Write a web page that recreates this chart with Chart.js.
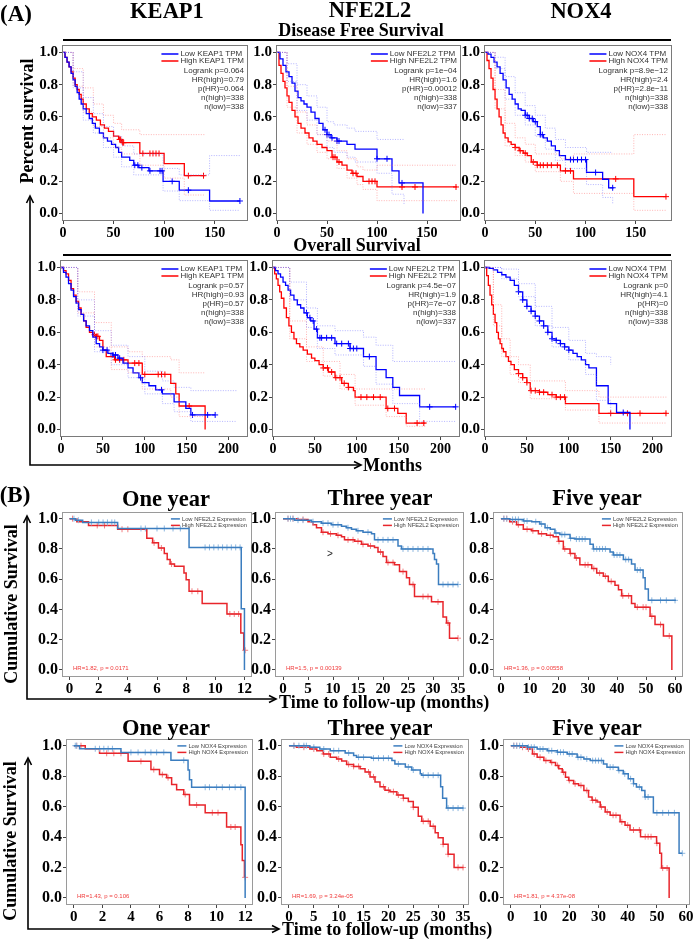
<!DOCTYPE html>
<html><head><meta charset="utf-8">
<script src="https://cdn.jsdelivr.net/npm/chart.js@4/dist/chart.umd.min.js"></script>
<style>
html,body{margin:0;padding:0;background:#fff;}
body{width:698px;height:942px;position:relative;overflow:hidden;}
.t{position:absolute;font-family:'Liberation Serif','Times New Roman',serif;font-weight:bold;color:#000;white-space:nowrap;line-height:1;transform:translate(-50%,-50%);}
.l{position:absolute;font-family:'Liberation Serif','Times New Roman',serif;font-weight:bold;color:#000;white-space:nowrap;line-height:1;transform:translate(0,-50%);}
.r{position:absolute;font-family:'Liberation Serif','Times New Roman',serif;font-weight:bold;color:#000;white-space:nowrap;line-height:1;transform:translate(-50%,-50%) rotate(-90deg);}
canvas{position:absolute;}
svg{position:absolute;left:0;top:0;}
</style></head><body>
<script>
// ---------- tick labels ----------
const yTicks=[0,0.2,0.4,0.6,0.8,1.0];
const dfsXTicks=[0,50,100,150];
const osXTicks=[0,50,100,150,200];
const yr1Ticks=[0,2,4,6,8,10,12];
const yr3Ticks=[0,5,10,15,20,25,30,35];
const yr5Ticks=[0,10,20,30,40,50,60];

// ---------- (A) Disease free survival : KEAP1 ----------
const dfsKEAP1_low_t=[0,2,4,6,8,10,12,14,16,18,20,23,26,29,32,36,40,44,48,52,55,58,66,70,75,85,99,115,145,175];
const dfsKEAP1_low_s=[1,.97,.94,.91,.87,.83,.79,.75,.71,.68,.65,.62,.59,.56,.53,.50,.47,.45,.43,.41,.38,.35,.33,.30,.285,.265,.20,.145,.078,.078];
const dfsKEAP1_low_cens=[71,74,78,86,96,98,108,124,175];
const dfsKEAP1_low_ciT=[0,10,20,30,40,50,58,70,99,115,145,175];
const dfsKEAP1_low_hi=[1,.88,.72,.62,.54,.48,.42,.37,.28,.24,.36,.36];
const dfsKEAP1_low_lo=[1,.78,.58,.50,.41,.35,.29,.24,.14,.08,.02,.02];
const dfsKEAP1_high_t=[0,2,4,6,8,10,12,14,16,18,20,23,26,29,33,37,41,45,50,55,58,76,100,120,140];
const dfsKEAP1_high_s=[1,.97,.94,.91,.88,.84,.80,.77,.74,.71,.68,.65,.62,.60,.58,.55,.53,.51,.48,.46,.44,.373,.31,.235,.235];
const dfsKEAP1_high_cens=[56,57,59,60,79,86,89,92,95,124,139];
const dfsKEAP1_high_ciT=[0,10,20,30,40,50,58,76,100,120,140];
const dfsKEAP1_high_hi=[1,.90,.78,.68,.61,.56,.52,.49,.49,.49,.49];
const dfsKEAP1_high_lo=[1,.79,.63,.54,.47,.41,.37,.30,.22,.115,.115];

// ---------- (A) DFS : NFE2L2 ----------
const dfsNFE2L2_low_t=[0,3,6,9,12,15,18,21,24,27,30,34,38,42,46,50,54,60,70,78,100,115,122,146];
const dfsNFE2L2_low_s=[1,.96,.92,.88,.85,.81,.76,.72,.70,.68,.66,.63,.59,.56,.52,.49,.47,.45,.43,.40,.34,.265,.19,0];
const dfsNFE2L2_low_cens=[48,50,52,55,60,62,100,110,125];
const dfsNFE2L2_low_ciT=[0,10,20,30,40,50,57,70,78,100,115,127];
const dfsNFE2L2_low_hi=[1,.93,.80,.73,.66,.57,.55,.53,.51,.46,.46,.46];
const dfsNFE2L2_low_lo=[1,.82,.64,.58,.49,.41,.38,.35,.32,.25,.12,.06];
const dfsNFE2L2_high_t=[0,2,4,6,8,10,12,15,18,21,24,28,32,36,40,45,50,55,60,65,70,75,80,86,100,180];
const dfsNFE2L2_high_s=[1,.92,.87,.82,.78,.73,.69,.64,.60,.56,.53,.50,.47,.45,.43,.41,.39,.35,.32,.30,.27,.25,.23,.20,.165,.165];
const dfsNFE2L2_high_cens=[56,58,62,76,79,92,95,98,125,138,179];
const dfsNFE2L2_high_ciT=[0,10,20,30,40,50,60,70,80,86,100,180];
const dfsNFE2L2_high_hi=[1,.79,.63,.55,.49,.45,.39,.34,.29,.27,.30,.30];
const dfsNFE2L2_high_lo=[1,.66,.50,.43,.38,.34,.28,.22,.18,.15,.08,.08];

// ---------- (A) DFS : NOX4 ----------
const dfsNOX4_low_t=[0,3,6,9,12,15,18,21,24,27,30,33,36,40,44,48,52,55,58,62,66,70,74,80,101,117,123,128];
const dfsNOX4_low_s=[1,.99,.97,.94,.91,.87,.83,.78,.74,.71,.68,.65,.64,.61,.59,.57,.54,.49,.47,.45,.42,.39,.36,.335,.255,.213,.16,.16];
const dfsNOX4_low_cens=[40,42,44,47,50,55,57,85,88,92,96,100,110,127];
const dfsNOX4_low_ciT=[0,10,20,30,40,50,60,70,80,101,117,127];
const dfsNOX4_low_hi=[1,.97,.85,.75,.67,.61,.53,.46,.41,.38,.38,.38];
const dfsNOX4_low_lo=[1,.90,.71,.61,.55,.48,.40,.33,.28,.18,.10,.06];
const dfsNOX4_high_t=[0,2,4,6,8,10,12,14,16,18,20,23,26,30,34,38,42,46,52,75,88,148,180];
const dfsNOX4_high_s=[1,.95,.90,.84,.77,.71,.65,.60,.55,.50,.47,.445,.43,.41,.39,.375,.36,.32,.30,.265,.215,.105,.105];
const dfsNOX4_high_cens=[30,35,40,48,52,55,58,62,66,72,80,85,130,180];
const dfsNOX4_high_ciT=[0,10,20,30,40,50,75,88,148,180];
const dfsNOX4_high_hi=[1,.77,.56,.47,.43,.37,.34,.37,.49,.49];
const dfsNOX4_high_lo=[1,.65,.42,.36,.32,.26,.20,.125,.02,.02];

// ---------- (A) Overall survival : KEAP1 ----------
const osKEAP1_low_t=[0,3,6,9,12,15,18,21,24,27,30,34,38,42,46,50,56,62,68,74,80,86,93,97,105,113,121,135,149,155,184];
const osKEAP1_low_s=[1,.97,.94,.90,.86,.82,.78,.74,.71,.67,.64,.61,.57,.53,.51,.49,.47,.46,.44,.41,.38,.35,.32,.29,.27,.245,.22,.17,.13,.09,.09];
const osKEAP1_low_cens=[50,55,62,65,70,95,120,157,175,184];
const osKEAP1_low_ciT=[0,20,40,60,80,100,121,135,155,210];
const osKEAP1_low_hi=[1,.80,.61,.52,.45,.36,.30,.26,.24,.24];
const osKEAP1_low_lo=[1,.70,.48,.40,.32,.22,.16,.11,.05,.05];
const osKEAP1_high_t=[0,3,6,9,12,15,18,21,24,27,30,34,38,42,46,50,54,64,80,97,131,137,141,172];
const osKEAP1_high_s=[1,.98,.96,.92,.87,.83,.79,.75,.71,.67,.63,.60,.585,.575,.55,.49,.45,.43,.41,.34,.285,.22,.145,0];
const osKEAP1_high_cens=[40,42,44,65,70,75,88,93,100,116,120,124,153];
const osKEAP1_high_ciT=[0,20,40,60,80,97,131,141,172];
const osKEAP1_high_hi=[1,.85,.66,.51,.48,.45,.43,.35,.35];
const osKEAP1_high_lo=[1,.72,.51,.37,.35,.25,.20,.08,.08];

// ---------- (A) OS : NFE2L2 ----------
const osNFE2L2_low_t=[0,3,6,9,12,15,18,21,25,29,33,37,41,45,49,53,74,92,108,123,135,143,151,175,218];
const osNFE2L2_low_s=[1,.98,.96,.94,.91,.89,.86,.83,.80,.77,.75,.72,.69,.67,.62,.566,.53,.50,.45,.37,.32,.26,.21,.14,.14];
const osNFE2L2_low_cens=[40,44,48,52,56,58,64,70,76,82,90,92,96,100,115,187,218];
const osNFE2L2_low_ciT=[0,20,40,53,74,108,123,143,175,218];
const osNFE2L2_low_hi=[1,.91,.75,.64,.61,.57,.52,.42,.42,.42];
const osNFE2L2_low_lo=[1,.80,.63,.50,.46,.39,.28,.16,.05,.05];
const osNFE2L2_high_t=[0,2,4,6,8,10,13,16,19,22,25,28,32,36,41,46,50,55,60,66,74,82,90,96,98,135,149,159,182];
const osNFE2L2_high_s=[1,.96,.93,.89,.85,.81,.75,.69,.64,.60,.56,.53,.51,.49,.465,.44,.425,.40,.38,.355,.32,.285,.26,.24,.20,.13,.10,.04,.04];
const osNFE2L2_high_cens=[60,65,70,75,80,85,90,105,112,120,128,137,145,172,180];
const osNFE2L2_high_ciT=[0,20,40,60,80,98,135,159,182];
const osNFE2L2_high_hi=[1,.67,.51,.42,.34,.25,.25,.25,.25];
const osNFE2L2_high_lo=[1,.56,.42,.33,.25,.15,.08,.02,.02];

// ---------- (A) OS : NOX4 ----------
const osNOX4_low_t=[0,5,10,15,20,25,30,35,40,45,50,55,60,65,70,75,80,85,90,95,100,105,110,115,120,124,133,147,157,173];
const osNOX4_low_s=[1,.995,.985,.97,.955,.94,.92,.89,.85,.80,.76,.73,.70,.67,.64,.60,.56,.55,.53,.51,.49,.47,.45,.43,.40,.38,.27,.16,.105,0];
const osNOX4_low_cens=[40,45,50,55,60,65,70,75,80,85,90,95,100,165];
const osNOX4_low_ciT=[0,20,40,60,80,100,120,133,150];
const osNOX4_low_hi=[1,.99,.90,.76,.63,.55,.47,.45,.40];
const osNOX4_low_lo=[1,.93,.82,.64,.51,.43,.34,.18,.08];
const osNOX4_high_t=[0,2,4,6,8,10,12,14,16,18,20,22,25,28,31,35,40,45,50,54,65,75,85,96,136,217];
const osNOX4_high_s=[1,.95,.89,.83,.77,.71,.66,.60,.56,.53,.50,.48,.45,.42,.40,.37,.345,.32,.29,.24,.23,.215,.20,.16,.10,.10];
const osNOX4_high_cens=[40,45,50,55,60,65,70,80,85,90,95,150,170,185,216];
const osNOX4_high_ciT=[0,10,20,30,40,54,96,136,217];
const osNOX4_high_hi=[1,.77,.56,.45,.40,.30,.24,.20,.20];
const osNOX4_high_lo=[1,.64,.45,.34,.29,.19,.12,.04,.04];

// ---------- (B) NFE2L2 : one / three / five year ----------
const y1NFE2L2_low_t=[0,0.4,0.9,3.3,8.2,11.78,12.0];
const y1NFE2L2_low_s=[1,.99,.975,.935,.81,.405,0];
const y1NFE2L2_low_cens=[0.3,0.6,1.5,2.0,2.3,2.6,2.9,3.1,4.9,5.2,6.0,6.5,7.1,7.6,9.3,9.6,9.9,10.2,10.5,10.8,11.1,11.4,11.7];
const y1NFE2L2_high_t=[0,0.5,1.3,3.3,5.3,5.7,6.1,6.5,6.7,6.9,7.2,7.85,8.0,8.2,9.1,10.8,11.75,11.95];
const y1NFE2L2_high_s=[1,.98,.955,.93,.87,.84,.806,.77,.73,.70,.685,.64,.596,.52,.44,.37,.245,.13];
const y1NFE2L2_high_cens=[0.2,1.9,2.4,3.6,4.0,5.8,6.3,7.0,8.4,8.8,11.0,11.3,11.6,12.05];
const y3NFE2L2_low_t=[0,2.3,5.7,7.7,9.7,11.7,12.7,13.7,14.7,16,17.7,18.3,23,23.7,30,30.3,30.7,31.1,35];
const y3NFE2L2_low_s=[1,.99,.98,.97,.96,.95,.94,.93,.92,.91,.90,.86,.82,.80,.77,.73,.70,.565,.565];
const y3NFE2L2_low_cens=[1,1.5,2,3,4,6,8,9,10,11,13,15,17,19,20,21,22,24,25,26,27,28,29,32,33,34,35];
const y3NFE2L2_high_t=[0,3,5,6,6.7,7.7,9,10.7,11.7,12.3,14.3,15.7,17,18.3,19,20,20.7,22.3,23.3,24.7,25.3,26.3,29.7,32,32.7,33.3,35];
const y3NFE2L2_high_s=[1,.995,.98,.96,.94,.91,.90,.89,.88,.86,.85,.83,.82,.81,.78,.75,.71,.695,.65,.61,.565,.485,.45,.35,.31,.21,.21];
const y3NFE2L2_high_cens=[1,2,4,8,9.5,11,13,14,15,16,17.5,19.5,21,22,24,26,28,29,31,33,35];
const y5NFE2L2_low_t=[0,3,7.7,10.6,13.4,15.2,17,18.6,20.3,23.8,25.5,30.7,31.8,37.6,38.7,42.2,45,46.2,49,49.7,50.8,60.3];
const y5NFE2L2_low_s=[1,.995,.985,.98,.965,.94,.93,.905,.895,.87,.865,.83,.80,.78,.76,.73,.70,.66,.61,.535,.46,.46];
const y5NFE2L2_low_cens=[1,2,4,5,6,8,9,12,14,16,19,21,22,24,26,27,28,29,32,33,34,35,36,39,40,41,43,44,47,48,52,55,57,60];
const y5NFE2L2_high_t=[0,3,5.4,7.7,10.6,12.9,15.7,18,19.8,21.5,23.8,25.5,27.2,31.3,33,35.3,37,39.3,40.5,41.6,45,46.2,51.4,53.1,56,58.9];
const y5NFE2L2_high_s=[1,.98,.96,.93,.92,.90,.89,.88,.85,.80,.77,.74,.695,.67,.64,.62,.585,.56,.53,.49,.44,.415,.355,.30,.225,0];
const y5NFE2L2_high_cens=[1,2,4,6,9,11,14,17,20,22,24,26,29,30,32,34,36,38,42,44,47,49,50,52,55,58];

// ---------- (B) NOX4 : one / three / five year ----------
const y1NOX4_low_t=[0,0.4,3.3,6.8,8.0,8.1,8.25,12.0];
const y1NOX4_low_s=[1,.98,.956,.904,.84,.777,.727,0];
const y1NOX4_low_cens=[0.1,0.2,1.5,1.8,2.1,2.4,2.7,4.0,4.5,5.0,5.4,5.8,6.3,7.7,9.2,9.5,10.0,10.4,10.9,11.3,11.7];
const y1NOX4_high_t=[0,0.8,1.8,3.8,5.4,6.0,6.5,6.85,7.2,7.7,8.1,9.2,10.7,11.7,11.8,11.95];
const y1NOX4_high_s=[1,.98,.95,.897,.843,.81,.79,.745,.71,.68,.61,.56,.466,.35,.245,.135];
const y1NOX4_high_cens=[0.2,0.5,2.3,2.8,3.3,4.7,5.6,6.2,6.6,7.8,8.6,9.7,10.1,11.0,11.3,12.0];
const y3NOX4_low_t=[0,4.2,6.2,8.3,11.3,13,13.6,16.6,20.7,21.3,23.4,24.7,26.4,26.7,30.5,30.9,31.7,35.1];
const y3NOX4_low_s=[1,.99,.978,.967,.952,.935,.924,.918,.903,.88,.86,.84,.816,.806,.73,.655,.59,.59];
const y3NOX4_low_cens=[1,2,3,3.5,5,7,9,10,12,14,15,17,18,19,20,22,24,25,27,28,29,30,32,33,34,35];
const y3NOX4_high_t=[0,1.5,4.2,5.6,6.9,8.3,9.6,10.6,11.6,13,14.3,15.3,16.3,17.3,18.3,19.3,20.3,21.7,23,24,25,26,26.7,28.4,29.4,30,31,32,33.2,35.1];
const y3NOX4_high_s=[1,.99,.978,.967,.946,.924,.913,.90,.877,.864,.849,.827,.795,.762,.73,.708,.698,.676,.654,.633,.596,.536,.503,.47,.428,.395,.352,.287,.20,.20];
const y3NOX4_high_cens=[1,3,5,7,8,10,12,13,14,16,17,19,20,21,22,23,25,27,28,29,31,32,34,35];
const y5NOX4_low_t=[0,5.7,9,12.5,15.9,19.3,22.7,25,27.2,31.7,32.9,36.8,38.5,40.2,42,43,44.8,45.9,48.8,57.6,58.7];
const y5NOX4_low_s=[1,.99,.978,.967,.957,.946,.924,.913,.902,.88,.859,.837,.815,.783,.75,.728,.706,.663,.559,.293,.293];
const y5NOX4_low_cens=[1,2,3,4,6,7,8,10,11,13,14,16,17,18,20,21,23,24,26,28,29,30,31,34,35,37,39,41,42,44,46,47,50,52,54,56,58.7];
const y5NOX4_high_t=[0,3.4,5.7,7.4,9,11.3,13.6,15.3,16.4,17.6,18.7,19.8,21.5,23.2,25,26.6,27.8,29.5,30.6,32.3,34,37.4,39.1,40.8,44.4,49.9,51,51.6,54.2];
const y5NOX4_high_s=[1,.99,.978,.946,.924,.902,.89,.87,.848,.826,.793,.772,.75,.739,.706,.663,.641,.63,.598,.565,.543,.50,.478,.446,.402,.359,.293,.196,0];
const y5NOX4_high_cens=[1,2,4,6,8,10,12,14,16,18,20,22,24,26,28,29,31,33,35,36,38,40,42,44,46,47,48,50,52,53.5];

// ---------- helpers ----------
function stepAt(T,S,x){let v=S[0];for(let i=0;i<T.length;i++){if(T[i]<=x)v=S[i];else break;}return v;}
function pts(T,S){return T.map((x,i)=>({x:x,y:S[i]}));}

const kmPlugin={id:'km',afterDatasetsDraw(chart,args,o){
  const ctx=chart.ctx,a=chart.chartArea;ctx.save();
  ctx.strokeStyle=o.boxColor;ctx.lineWidth=1;
  ctx.strokeRect(Math.round(a.left)-0.5,Math.round(a.top)-0.5,Math.round(a.right-a.left)+1,Math.round(a.bottom-a.top)+1);
  ctx.font=o.legFont;ctx.textBaseline='middle';
  const mw=Math.max(...o.labels.map(s=>ctx.measureText(s).width));
  const tx=a.right-o.legRight-mw;
  o.labels.forEach((s,i)=>{const y=a.top+o.legRows[i];
    ctx.strokeStyle=o.legColors[i];ctx.lineWidth=o.legLW;ctx.beginPath();
    ctx.moveTo(tx-o.legGap-o.legLine,y);ctx.lineTo(tx-o.legGap,y);ctx.stroke();
    ctx.fillStyle=o.textColor;ctx.textAlign='left';ctx.fillText(s,tx,y);});
  if(o.stats){ctx.textAlign='right';ctx.fillStyle=o.textColor;
    o.stats.forEach((s,i)=>ctx.fillText(s,a.right-o.legRight,a.top+o.statRows[i]));}
  if(o.hr){ctx.font=o.hrFont;ctx.fillStyle=o.hrColor;ctx.textAlign='left';
    ctx.fillText(o.hr,a.left+o.hrDx,chart.scales.y.getPixelForValue(0)-1.5);}
  ctx.restore();}};

const SERIF="'Liberation Serif','Times New Roman',serif";
const styleA={lw:1.3,cr:3,boxColor:'#7a7a7a',fx:14,fy:15,pad:1,yW:48,xH:24,
  low:'#0000ff',high:'#ff0000',ciLow:'rgba(110,110,255,0.5)',ciHigh:'rgba(255,110,110,0.5)',cLow:'#0000ff',cHigh:'#ff0000'};
const styleB={lw:1.5,cr:3,boxColor:'#9a9a9a',fx:15,fy:16,pad:0,yW:48,xH:26,
  low:'#3b7dbf',high:'#e8252b',cLow:'#8db7df',cHigh:'#f28083'};

function makeKM(box,xr,xt,low,high,st,extra){
  const ds=[];
  [[low,st.ciLow],[high,st.ciHigh]].forEach(([c,ci])=>{
    if(c.ciT){[c.hi,c.lo].forEach(v=>ds.push({data:pts(c.ciT,v),borderColor:ci,borderWidth:1,borderDash:[1,1.5],stepped:true,pointRadius:0,fill:false}));}
  });
  [[low,st.low,st.cLow],[high,st.high,st.cHigh]].forEach(([c,col,cc])=>{
    ds.push({data:pts(c.t,c.s),borderColor:col,borderWidth:st.lw,stepped:true,pointRadius:0,fill:false});
    ds.push({data:c.cens.map(x=>({x:x,y:stepAt(c.t,c.s,x)})),showLine:false,pointStyle:'cross',pointRadius:st.cr,
      pointBorderColor:cc,pointBorderWidth:1,borderColor:cc,backgroundColor:cc});
  });
  const W=(box.r-box.l)+st.yW+16,H=(box.b-box.t)+10+st.xH;
  const cv=document.createElement('canvas');cv.width=W;cv.height=H;document.body.appendChild(cv);
  const tickFont=s=>({family:SERIF,weight:'bold',size:s});
  const ch=new Chart(cv,{type:'line',data:{datasets:ds},plugins:[kmPlugin],
    options:{responsive:false,maintainAspectRatio:false,animation:false,devicePixelRatio:1,
      layout:{padding:{top:10,right:16,left:0,bottom:0}},
      plugins:{legend:{display:false},tooltip:{enabled:false},km:Object.assign({boxColor:st.boxColor},extra)},
      scales:{
        x:{type:'linear',min:xr[0],max:xr[1],afterBuildTicks:s=>{s.ticks=xt.map(v=>({value:v}));},
          afterFit:s=>{s.height=st.xH;},
          ticks:{font:tickFont(st.fx),color:'#000',padding:st.pad,maxRotation:0,autoSkip:false,callback:v=>String(v)},
          grid:{drawOnChartArea:false,drawTicks:true,tickLength:4,color:'#444'},border:{display:false}},
        y:{type:'linear',min:-0.04,max:1.04,afterBuildTicks:s=>{s.ticks=yTicks.map(v=>({value:v}));},
          afterFit:s=>{s.width=st.yW;},
          ticks:{font:tickFont(st.fy),color:'#000',padding:1,autoSkip:false,callback:v=>Number(v).toFixed(1)},
          grid:{drawOnChartArea:false,drawTicks:true,tickLength:4,color:'#444'},border:{display:false}}
      }}});
  let a=ch.chartArea;
  const dw=(box.r-box.l)-(a.right-a.left),dh=(box.b-box.t)-(a.bottom-a.top);
  if(Math.abs(dw)>0.5||Math.abs(dh)>0.5){ch.resize(Math.round(W+dw),Math.round(H+dh));a=ch.chartArea;}
  cv.style.left=(box.l-a.left)+'px';cv.style.top=(box.t-a.top)+'px';
  return ch;
}
function legA(gene,stats){return {labels:['Low '+gene+' TPM','High '+gene+' TPM'],legColors:['#0000ff','#ff0000'],
  legFont:"8px 'Liberation Sans',Arial,sans-serif",legRows:[8,15],statRows:[25,34,43,52,61],legRight:3,legLine:17,legGap:2,legLW:1.5,
  textColor:'#333',stats:stats};}
function legB(gene,hr){return {labels:['Low '+gene+' Expression','High '+gene+' Expression'],legColors:['#3b7dbf','#e8252b'],
  legFont:"5.8px 'Liberation Sans',Arial,sans-serif",legRows:[6.3,12.8],legRight:4,legLine:9,legGap:2,legLW:1.5,
  textColor:'#444',hr:hr,hrFont:"6px 'Liberation Sans',Arial,sans-serif",hrColor:'#f03a3a',hrDx:10};}
function cur(t,s,c,ciT,hi,lo){return {t:t,s:s,cens:c,ciT:ciT,hi:hi,lo:lo};}

// (A) Disease free survival row
makeKM({l:63,t:46,r:247,b:220},[0,182],dfsXTicks,
  cur(dfsKEAP1_low_t,dfsKEAP1_low_s,dfsKEAP1_low_cens,dfsKEAP1_low_ciT,dfsKEAP1_low_hi,dfsKEAP1_low_lo),
  cur(dfsKEAP1_high_t,dfsKEAP1_high_s,dfsKEAP1_high_cens,dfsKEAP1_high_ciT,dfsKEAP1_high_hi,dfsKEAP1_high_lo),styleA,
  legA('KEAP1',['Logrank p=0.064','HR(high)=0.79','p(HR)=0.064','n(high)=338','n(low)=338']));
makeKM({l:277,t:46,r:460,b:220},[0,183],dfsXTicks,
  cur(dfsNFE2L2_low_t,dfsNFE2L2_low_s,dfsNFE2L2_low_cens,dfsNFE2L2_low_ciT,dfsNFE2L2_low_hi,dfsNFE2L2_low_lo),
  cur(dfsNFE2L2_high_t,dfsNFE2L2_high_s,dfsNFE2L2_high_cens,dfsNFE2L2_high_ciT,dfsNFE2L2_high_hi,dfsNFE2L2_high_lo),styleA,
  legA('NFE2L2',['Logrank p=1e\u221204','HR(high)=1.6','p(HR)=0.00012','n(high)=338','n(low)=337']));
makeKM({l:485,t:46,r:671,b:220},[0,185],dfsXTicks,
  cur(dfsNOX4_low_t,dfsNOX4_low_s,dfsNOX4_low_cens,dfsNOX4_low_ciT,dfsNOX4_low_hi,dfsNOX4_low_lo),
  cur(dfsNOX4_high_t,dfsNOX4_high_s,dfsNOX4_high_cens,dfsNOX4_high_ciT,dfsNOX4_high_hi,dfsNOX4_high_lo),styleA,
  legA('NOX4',['Logrank p=8.9e\u221212','HR(high)=2.4','p(HR)=2.8e\u221211','n(high)=338','n(low)=338']));
// (A) Overall survival row
makeKM({l:61,t:261,r:247,b:436},[0,222],osXTicks,
  cur(osKEAP1_low_t,osKEAP1_low_s,osKEAP1_low_cens,osKEAP1_low_ciT,osKEAP1_low_hi,osKEAP1_low_lo),
  cur(osKEAP1_high_t,osKEAP1_high_s,osKEAP1_high_cens,osKEAP1_high_ciT,osKEAP1_high_hi,osKEAP1_high_lo),styleA,
  legA('KEAP1',['Logrank p=0.57','HR(high)=0.93','p(HR)=0.57','n(high)=338','n(low)=338']));
makeKM({l:273,t:261,r:459,b:436},[0,222],osXTicks,
  cur(osNFE2L2_low_t,osNFE2L2_low_s,osNFE2L2_low_cens,osNFE2L2_low_ciT,osNFE2L2_low_hi,osNFE2L2_low_lo),
  cur(osNFE2L2_high_t,osNFE2L2_high_s,osNFE2L2_high_cens,osNFE2L2_high_ciT,osNFE2L2_high_hi,osNFE2L2_high_lo),styleA,
  legA('NFE2L2',['Logrank p=4.5e\u221207','HR(high)=1.9','p(HR)=7e\u221207','n(high)=338','n(low)=337']));
makeKM({l:485,t:261,r:671,b:436},[0,222],osXTicks,
  cur(osNOX4_low_t,osNOX4_low_s,osNOX4_low_cens,osNOX4_low_ciT,osNOX4_low_hi,osNOX4_low_lo),
  cur(osNOX4_high_t,osNOX4_high_s,osNOX4_high_cens,osNOX4_high_ciT,osNOX4_high_hi,osNOX4_high_lo),styleA,
  legA('NOX4',['Logrank p=0','HR(high)=4.1','p(HR)=0','n(high)=338','n(low)=338']));
// (B) NFE2L2 row
makeKM({l:63,t:513,r:251,b:676},[-0.45,12.45],yr1Ticks,
  cur(y1NFE2L2_low_t,y1NFE2L2_low_s,y1NFE2L2_low_cens),cur(y1NFE2L2_high_t,y1NFE2L2_high_s,y1NFE2L2_high_cens),styleB,
  legB('NFE2L2','HR=1.82, p = 0.0171'));
makeKM({l:276,t:513,r:463,b:676},[-1.4,36],yr3Ticks,
  cur(y3NFE2L2_low_t,y3NFE2L2_low_s,y3NFE2L2_low_cens),cur(y3NFE2L2_high_t,y3NFE2L2_high_s,y3NFE2L2_high_cens),styleB,
  legB('NFE2L2','HR=1.5, p = 0.00139'));
makeKM({l:494,t:513,r:682,b:676},[-2.4,62.4],yr5Ticks,
  cur(y5NFE2L2_low_t,y5NFE2L2_low_s,y5NFE2L2_low_cens),cur(y5NFE2L2_high_t,y5NFE2L2_high_s,y5NFE2L2_high_cens),styleB,
  legB('NFE2L2','HR=1.36, p = 0.00558'));
// (B) NOX4 row
makeKM({l:67,t:740,r:252,b:904},[-0.48,12.48],yr1Ticks,
  cur(y1NOX4_low_t,y1NOX4_low_s,y1NOX4_low_cens),cur(y1NOX4_high_t,y1NOX4_high_s,y1NOX4_high_cens),styleB,
  legB('NOX4','HR=1.43, p = 0.106'));
makeKM({l:282,t:740,r:468,b:904},[-1.4,36],yr3Ticks,
  cur(y3NOX4_low_t,y3NOX4_low_s,y3NOX4_low_cens),cur(y3NOX4_high_t,y3NOX4_high_s,y3NOX4_high_cens),styleB,
  legB('NOX4','HR=1.69, p = 3.24e-05'));
makeKM({l:504,t:740,r:689,b:904},[-2.35,61],yr5Ticks,
  cur(y5NOX4_low_t,y5NOX4_low_s,y5NOX4_low_cens),cur(y5NOX4_high_t,y5NOX4_high_s,y5NOX4_high_cens),styleB,
  legB('NOX4','HR=1.81, p = 4.37e-08'));
</script>

<svg width="698" height="942">
 <g stroke="#000" fill="none">
  <line x1="63" y1="40" x2="671" y2="40" stroke-width="2"/>
  <line x1="63" y1="255" x2="671" y2="255" stroke-width="2"/>
  <polyline points="30,197 30,465 361,465" stroke-width="1.6"/>
  <polyline points="26.5,203 30,196 33.5,203" stroke-width="1.6"/>
  <polyline points="354,461.5 361,465 354,468.5" stroke-width="1.6"/>
  <polyline points="27,517 27,699 276,699" stroke-width="1.6"/>
  <polyline points="23.5,523 27,516 30.5,523" stroke-width="1.6"/>
  <polyline points="269,695.5 276,699 269,702.5" stroke-width="1.6"/>
  <polyline points="28,759 28,929 279,929" stroke-width="1.6"/>
  <polyline points="24.5,765 28,758 31.5,765" stroke-width="1.6"/>
  <polyline points="272,925.5 279,929 272,932.5" stroke-width="1.6"/>
 </g>
</svg>
<div class="t" style="left:16px;top:13px;font-size:23px">(A)</div>
<div class="t" style="left:167px;top:11px;font-size:22.5px">KEAP1</div>
<div class="t" style="left:370px;top:10px;font-size:22.5px">NFE2L2</div>
<div class="t" style="left:581px;top:11px;font-size:22.5px">NOX4</div>
<div class="t" style="left:361px;top:30px;font-size:18px">Disease Free Survival</div>
<div class="t" style="left:357px;top:245px;font-size:18px">Overall Survival</div>
<div class="r" style="left:27px;top:121px;font-size:18px">Percent survival</div>
<div class="l" style="left:363px;top:465px;font-size:18px">Months</div>
<div class="t" style="left:15px;top:494px;font-size:23px">(B)</div>
<div class="t" style="left:166px;top:499px;font-size:22.5px">One year</div>
<div class="t" style="left:380px;top:498px;font-size:22.5px">Three year</div>
<div class="t" style="left:597px;top:498px;font-size:22.5px">Five year</div>
<div class="r" style="left:11px;top:604px;font-size:18px">Cumulative Survival</div>
<div class="l" style="left:279px;top:702px;font-size:18px">Time to follow-up (months)</div>
<div class="t" style="left:166px;top:728px;font-size:22.5px">One year</div>
<div class="t" style="left:380px;top:728px;font-size:22.5px">Three year</div>
<div class="t" style="left:597px;top:728px;font-size:22.5px">Five year</div>
<div class="r" style="left:10px;top:841px;font-size:18px">Cumulative Survival</div>
<div class="l" style="left:282px;top:929px;font-size:18px">Time to follow-up (months)</div>
<div class="t" style="left:330px;top:554px;font-size:10px;font-family:'Liberation Sans',Arial,sans-serif;font-weight:normal;color:#222">&gt;</div>
</body></html>
